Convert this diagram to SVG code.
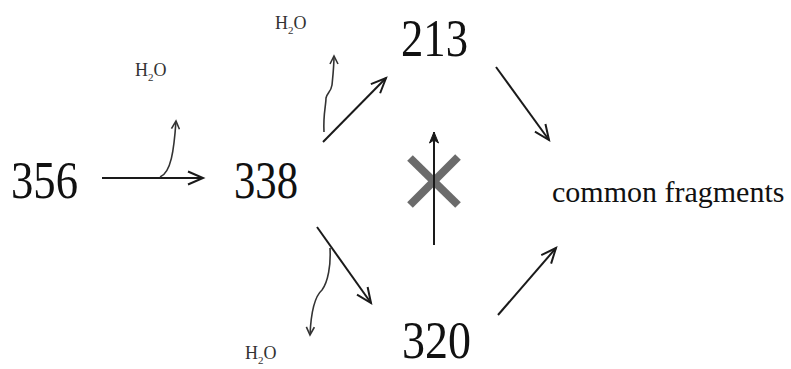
<svg xmlns="http://www.w3.org/2000/svg" width="791" height="369" viewBox="0 0 791 369">
  <defs>
    <style>
      .num { font-family: "Liberation Serif", "Times New Roman", serif; font-size: 52px; fill: #111; }
      .lbl { font-family: "Liberation Serif", "Times New Roman", serif; font-size: 30px; fill: #111; }
      .h2o { font-family: "Liberation Serif", "Times New Roman", serif; font-size: 18px; fill: #333; }
      .sub { font-size: 11px; }
      .ln { fill: none; stroke: #1a1a1a; stroke-width: 2; }
      .cv { fill: none; stroke: #333; stroke-width: 1.6; }
    </style>
    <marker id="big" markerUnits="userSpaceOnUse" markerWidth="20" markerHeight="16" viewBox="-16 -8 18 16" refX="0" refY="0" orient="auto">
      <path d="M-15,-6.5 L0,0 L-15,6.5" fill="none" stroke="#1a1a1a" stroke-width="2"/>
    </marker>
    <marker id="small" markerUnits="userSpaceOnUse" markerWidth="12" markerHeight="10" viewBox="-10 -5 12 10" refX="0" refY="0" orient="auto">
      <path d="M-8,-4 L0,0 L-8,4" fill="none" stroke="#333" stroke-width="1.6"/>
    </marker>
    <marker id="solid" markerUnits="userSpaceOnUse" markerWidth="14" markerHeight="12" viewBox="-12 -6 14 12" refX="0" refY="0" orient="auto">
      <path d="M-11,-4.5 L0,0 L-11,4.5 L-8,0 Z" fill="#1a1a1a" stroke="#1a1a1a" stroke-width="1"/>
    </marker>
  </defs>
  <rect width="791" height="369" fill="#ffffff"/>

  <g id="n356"><text class="num" x="11" y="198" textLength="67" lengthAdjust="spacingAndGlyphs">356</text></g>
  <g id="n338"><text class="num" x="234" y="198" textLength="64" lengthAdjust="spacingAndGlyphs">338</text></g>
  <g id="n213"><text class="num" x="401" y="56" textLength="67" lengthAdjust="spacingAndGlyphs">213</text></g>
  <g id="n320"><text class="num" x="402" y="358" textLength="69" lengthAdjust="spacingAndGlyphs">320</text></g>
  <g id="common"><text class="lbl" x="552" y="202">common fragments</text></g>

  <g id="h2o-1"><text class="h2o" x="135" y="76">H<tspan class="sub" dy="5">2</tspan><tspan dy="-5">O</tspan></text></g>
  <g id="h2o-2"><text class="h2o" x="275" y="29">H<tspan class="sub" dy="5">2</tspan><tspan dy="-5">O</tspan></text></g>
  <g id="h2o-3"><text class="h2o" x="245" y="359">H<tspan class="sub" dy="5">2</tspan><tspan dy="-5">O</tspan></text></g>

  <g id="blocked">
    <line x1="410" y1="158" x2="458" y2="205" stroke="#6b6b6b" stroke-width="8"/>
    <line x1="458" y1="157" x2="410" y2="205" stroke="#6b6b6b" stroke-width="8"/>
  </g>

  <g id="connectors">
    <line class="ln" x1="102" y1="178" x2="203" y2="178" marker-end="url(#big)"/>
    <path class="cv" d="M160,177 C171,173 174,150 176,121" marker-end="url(#small)"/>
    <line class="ln" x1="323" y1="142" x2="386" y2="78" marker-end="url(#big)"/>
    <path class="cv" d="M324,132 C323,115 326,105 326,98 C327,93 331,92 332,85 C333,75 334,66 334,56" marker-end="url(#small)"/>
    <line class="ln" x1="317" y1="227" x2="371" y2="303" marker-end="url(#big)"/>
    <path class="cv" d="M330,248 C331,265 328,282 322,290 C314,297 311,312 310,335" marker-end="url(#small)"/>
    <line class="ln" x1="496" y1="67" x2="549" y2="140" marker-end="url(#big)"/>
    <line class="ln" x1="498" y1="315" x2="556" y2="248" marker-end="url(#big)"/>
    <line class="ln" x1="434" y1="245" x2="434" y2="132" stroke-width="1.8" marker-end="url(#solid)"/>
  </g>
</svg>
